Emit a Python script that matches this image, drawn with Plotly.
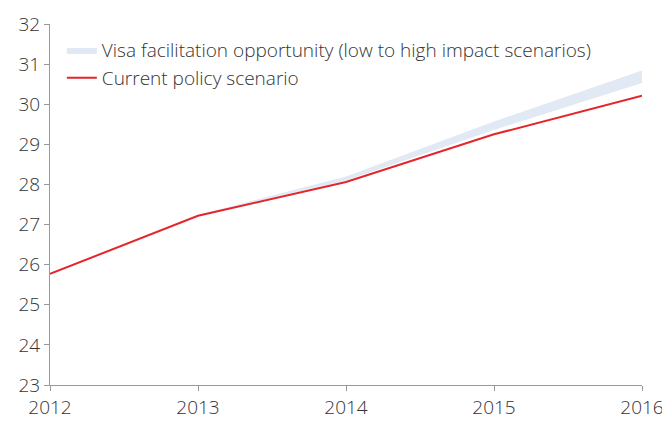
import plotly.graph_objects as go

years = [2012, 2013, 2014, 2015, 2016]
current_policy = [25.77, 27.22, 28.06, 29.25, 30.21]
visa_low = [25.77, 27.22, 28.10, 29.36, 30.53]
visa_high = [25.77, 27.24, 28.20, 29.57, 30.84]
y_ticks = [23, 24, 25, 26, 27, 28, 29, 30, 31, 32]

font_family = "Open Sans, Liberation Sans, Arial, sans-serif"
text_color = "#333333"
fs = 19

fig = go.Figure()
fig.add_trace(go.Scatter(
    x=years, y=visa_low, mode="lines", line=dict(width=0, color="#e1e9f4"),
    showlegend=False, hoverinfo="skip", legendgroup="a"))
fig.add_trace(go.Scatter(
    x=years, y=visa_high, mode="lines", line=dict(width=0, color="#e1e9f4"),
    fill="tonexty", fillcolor="#e1e9f4", legendgroup="a",
    name="Visa facilitation opportunity (low to high impact scenarios)"))
fig.add_trace(go.Scatter(
    x=years, y=current_policy, mode="lines",
    line=dict(width=2, color="#e3262a"), legendgroup="b",
    name="Current policy scenario"))

fig.update_layout(
    width=670, height=429,
    margin=dict(l=42, r=36, t=16, b=52),
    paper_bgcolor="white", plot_bgcolor="white",
    font=dict(family=font_family, size=fs, color=text_color, weight=300),
    showlegend=True,
    legend=dict(x=0.02, y=0.98, xanchor="left", yanchor="top",
                bgcolor="rgba(0,0,0,0)", font=dict(size=fs, color=text_color, weight=300),
                traceorder="grouped", tracegroupgap=0, itemwidth=30),
    xaxis=dict(range=[2012, 2016], tickvals=years, ticktext=[str(y) for y in years],
               showgrid=False, zeroline=False, showline=True, linecolor="#999999",
               linewidth=1, ticks="outside", ticklen=5, tickcolor="#999999",
               automargin=False,
               tickfont=dict(size=fs, color=text_color, weight=300)),
    yaxis=dict(range=[23, 32], tickvals=y_ticks, showgrid=False, zeroline=False,
               showline=True, linecolor="#999999", linewidth=1, ticks="outside",
               ticklen=5, tickcolor="#999999", automargin=False,
               tickfont=dict(size=fs, color=text_color, weight=300)),
)

fig.write_html("out.html")
